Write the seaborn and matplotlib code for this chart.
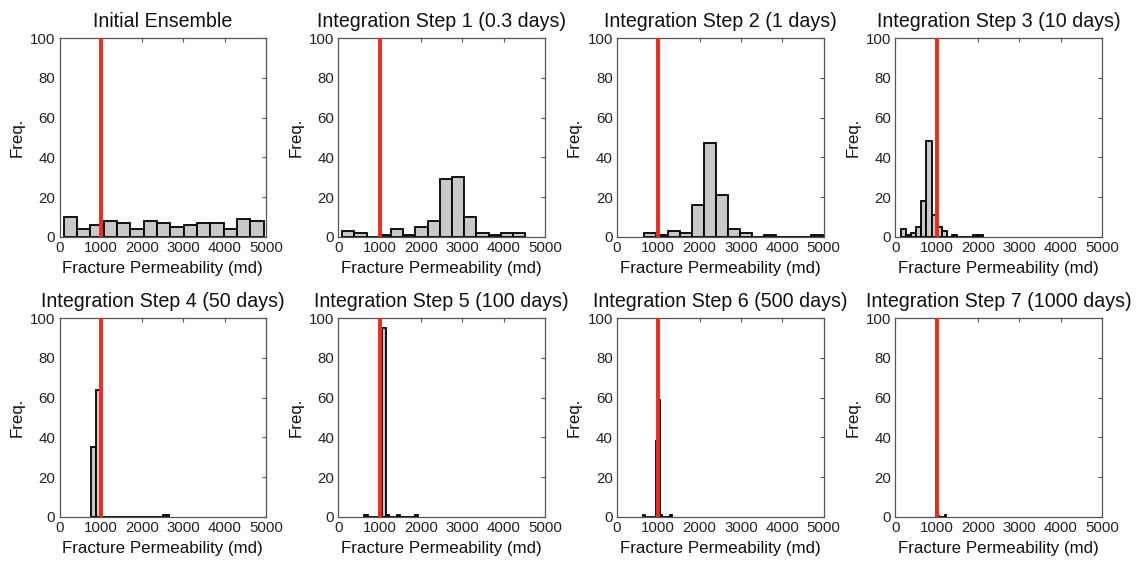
import numpy as np
import pandas as pd
import matplotlib
matplotlib.use("Agg")
import matplotlib.pyplot as plt
import seaborn as sns

# ---------------- data ----------------
titles = [
    "Initial Ensemble",
    "Integration Step 1 (0.3 days)",
    "Integration Step 2 (1 days)",
    "Integration Step 3 (10 days)",
    "Integration Step 4 (50 days)",
    "Integration Step 5 (100 days)",
    "Integration Step 6 (500 days)",
    "Integration Step 7 (1000 days)",
]

counts_initial = [10, 4, 6, 8, 7, 4, 8, 7, 5, 6, 7, 7, 4, 9, 8]
counts_step1 = [3, 2, 0, 1, 4, 1, 5, 8, 29, 30, 10, 2, 1, 2, 2]
counts_step2 = [2, 1, 3, 2, 16, 47, 21, 4, 2, 0, 1, 0, 0, 0, 1]
counts_step3 = [4, 1, 2, 5, 18, 48, 11, 5, 3, 0, 1, 0, 0, 0, 1, 1]
counts_step4 = [35, 64, 0, 0, 0, 0, 0, 0, 0, 0, 0, 0, 0, 0, 1]
counts_step5 = [1, 0, 0, 0, 1, 95, 1, 0, 0, 1, 0, 0, 0, 0, 1]
counts_step6 = [1, 0, 0, 0, 0, 0, 0, 38, 59, 1, 0, 0, 0, 0, 1]
counts_step7 = [40, 58, 0, 0, 1, 0, 0, 0, 0, 0, 0, 0, 0, 0, 1]

bin_start = [100, 97, 663, 130, 757, 630, 630, 984]     # md
bin_width = [323, 295, 289, 125, 125.5, 87, 46, 16]      # md

true_perm = 1000  # md (reference value, red line)

x_ticks = [0, 1000, 2000, 3000, 4000, 5000]
y_ticks = [0, 20, 40, 60, 80, 100]

all_counts = [counts_initial, counts_step1, counts_step2, counts_step3,
              counts_step4, counts_step5, counts_step6, counts_step7]

# ---------------- style ----------------
sns.set_theme(style="white")
plt.rcParams["font.family"] = ["Liberation Sans", "DejaVu Sans"]

W, H = 1141, 563
fig = plt.figure(figsize=(W / 100, H / 100), dpi=100)

col_left = [59.5, 338.3, 617.0, 895.3]
row_top = [38.0, 318.0]
ax_w, ax_h = 206.5, 199.0

for i, (title, counts) in enumerate(zip(titles, all_counts)):
    r, c = divmod(i, 4)
    left = col_left[c] / W
    bottom = 1 - (row_top[r] + ax_h) / H
    ax = fig.add_axes([left, bottom, ax_w / W, ax_h / H])

    n = len(counts)
    edges = [float(bin_start[i] + bin_width[i] * k) for k in range(n + 1)]
    centers = [(edges[k] + edges[k + 1]) / 2 for k in range(n)]
    df = pd.DataFrame({"perm": centers, "freq": [float(v) for v in counts]})
    sns.histplot(data=df, x="perm", weights="freq", bins=edges, ax=ax,
                 color="#c8c8c8", edgecolor="black", linewidth=1.3,
                 alpha=1.0, zorder=2)
    ax.axvline(true_perm, color="#f2281c", lw=2.8, zorder=5)

    ax.set_xlim(0, 5000)
    ax.set_ylim(0, 100)
    ax.set_xticks(x_ticks)
    ax.set_yticks(y_ticks)
    ax.set_xticklabels([str(t) for t in x_ticks])
    ax.set_yticklabels([str(t) for t in y_ticks])
    ax.tick_params(direction="in", top=True, right=True, length=3,
                   width=0.8, color="#555555", labelsize=10.8, pad=3,
                   labelcolor="#222222")
    for sp in ax.spines.values():
        sp.set_color("#555555")
        sp.set_linewidth(0.9)
    ax.set_xlabel("Fracture Permeability (md)", fontsize=12.2, labelpad=4,
                  color="#111111")
    ax.set_ylabel("Freq.", fontsize=12.2, labelpad=4, color="#111111")
    ax.set_title(title, fontsize=14.1, pad=8, color="#111111")

fig.savefig("out.png", dpi=100)
